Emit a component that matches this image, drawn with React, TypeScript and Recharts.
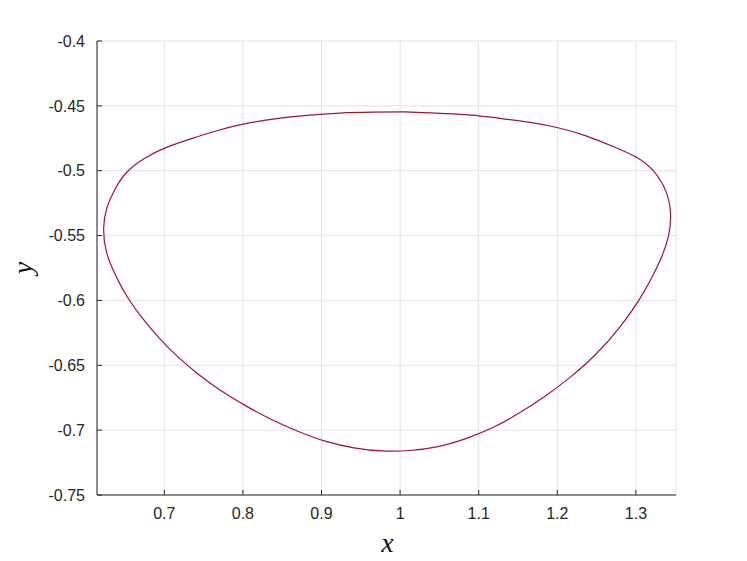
import { LineChart, Line, XAxis, YAxis, CartesianGrid, Label } from "recharts";

// closed loop, traced clockwise from the top, points roughly evenly spaced along the curve
const xs = [
  1.005, 1.0457, 1.0864, 1.1271, 1.1653, 1.2009, 1.2365, 1.2709, 1.3001, 1.3224, 1.3389, 1.3441, 1.3415,
  1.3332, 1.3186, 1.3031, 1.2798, 1.248, 1.2162, 1.1844, 1.1525, 1.1207, 1.0838, 1.0482, 1.0126, 0.977,
  0.9413, 0.9057, 0.8714, 0.837, 0.8027, 0.7709, 0.7429, 0.7174, 0.6945, 0.6729, 0.6538, 0.6398, 0.6266,
  0.6229, 0.6268, 0.6368, 0.6523, 0.6751, 0.7005, 0.7327, 0.7658, 0.8001, 0.8408, 0.8816, 0.9235, 0.9642,
  1.005,
];
const ys = [
  -0.4547, -0.4556, -0.457, -0.4596, -0.4628, -0.4669, -0.4731, -0.4813, -0.4894, -0.5002, -0.5171, -0.5349,
  -0.5503, -0.5657, -0.5843, -0.6005, -0.6203, -0.6421, -0.6593, -0.6738, -0.6864, -0.6972, -0.7065, -0.7127,
  -0.7157, -0.716, -0.7136, -0.7087, -0.7012, -0.692, -0.6809, -0.6691, -0.6567, -0.6435, -0.6296, -0.6143,
  -0.5981, -0.5828, -0.563, -0.5441, -0.5289, -0.5148, -0.5012, -0.4904, -0.4826, -0.4757, -0.4694, -0.4641,
  -0.46, -0.4573, -0.4556, -0.4549, -0.4547,
];
const xTicks = [0.7, 0.8, 0.9, 1, 1.1, 1.2, 1.3];
const yTicks = [-0.75, -0.7, -0.65, -0.6, -0.55, -0.5, -0.45, -0.4];

const data = xs.map((x, i) => ({ x, y: ys[i] }));

const axisColor = "#262626";
const tickStyle = { fill: axisColor, fontSize: 16, fontFamily: "'Liberation Sans', Arial, sans-serif" };
const labelFont = "'Liberation Serif', 'Times New Roman', serif";

export default function App() {
  return (
    <LineChart width={739} height={553} data={data} margin={{ top: 33, right: 71, left: 0, bottom: 0 }}>
      <CartesianGrid stroke="#e3e3e3" strokeWidth={1} />
      <XAxis
        dataKey="x"
        type="number"
        domain={[0.6144, 1.351]}
        allowDataOverflow
        ticks={xTicks}
        interval={0}
        height={66}
        tickSize={-5}
        tickMargin={18}
        tick={tickStyle}
        stroke={axisColor}
      >
        <Label
          content={({ viewBox }: any) => (
            <text
              x={viewBox.x + viewBox.width / 2 + 1}
              y={543.5}
              textAnchor="middle"
              fontFamily={labelFont}
              fontStyle="italic"
              fontSize={28}
              fill="#111"
            >
              x
            </text>
          )}
        />
      </XAxis>
      <XAxis
        xAxisId="top"
        orientation="top"
        dataKey="x"
        type="number"
        domain={[0.6144, 1.351]}
        allowDataOverflow
        ticks={xTicks}
        interval={0}
        height={0}
        tickSize={-5}
        tick={false}
        stroke={axisColor}
      />
      <YAxis
        type="number"
        domain={[-0.75, -0.4]}
        allowDataOverflow
        ticks={yTicks}
        interval={0}
        width={89}
        tickSize={-5}
        tickMargin={17}
        tick={tickStyle}
        stroke={axisColor}
      >
        <Label
          content={({ viewBox }: any) => {
            const cx = 24;
            const cy = viewBox.y + viewBox.height / 2;
            return (
              <text
                x={cx}
                y={cy}
                textAnchor="middle"
                transform={`rotate(-90, ${cx}, ${cy})`}
                fontFamily={labelFont}
                fontStyle="italic"
                fontSize={28}
                fill="#111"
              >
                y
              </text>
            );
          }}
        />
      </YAxis>
      <YAxis
        yAxisId="right"
        orientation="right"
        type="number"
        domain={[-0.75, -0.4]}
        allowDataOverflow
        ticks={yTicks}
        interval={0}
        width={0}
        tickSize={-5}
        tick={false}
        stroke={axisColor}
      />
      <Line
        dataKey="y"
        type="natural"
        stroke="#A2142F"
        strokeWidth={1.2}
        dot={false}
        isAnimationActive={false}
      />
    </LineChart>
  );
}
